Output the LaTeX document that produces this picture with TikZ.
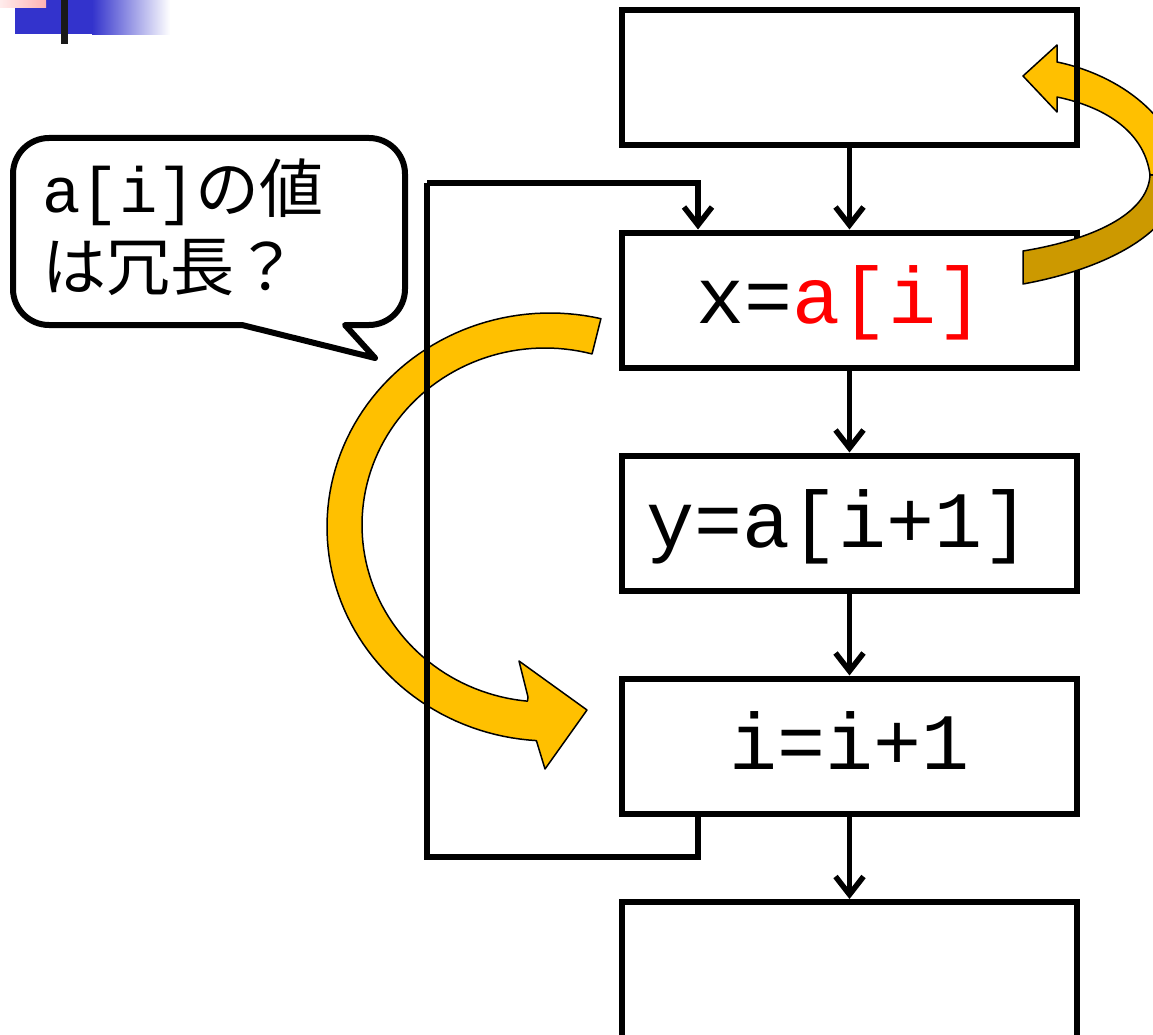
\documentclass[tikz,border=0pt]{standalone}
\usepackage{fontspec}
\setmonofont{Liberation Mono}
\newfontfamily\cjk{Noto Sans CJK JP}
\usetikzlibrary{arrows.meta}
\definecolor{gold}{HTML}{FFC000}
\definecolor{darkgold}{HTML}{CC9900}
\definecolor{slideblue}{HTML}{3333CC}
\definecolor{slidepink}{HTML}{FFB3B3}
\begin{document}
\begin{tikzpicture}[x=1pt,y=-1pt,
  flowbox/.style={draw,line width=6pt,minimum width=455pt,minimum height=135pt,inner sep=0pt},
  code/.style={font=\ttfamily\fontsize{80}{90}\selectfont,inner sep=0pt,anchor=base west},
  notetext/.style={font=\fontsize{64}{77}\selectfont,inner sep=0pt,anchor=base west},
  conn/.style={line width=5.5pt,-{Straight Barb[length=18pt,width=28pt]}},
  bigarrow/.style={fill=gold,draw=black,line width=1.5pt,line join=round},
  backarrow/.style={fill=darkgold,draw=black,line width=1.5pt,line join=round}]
\useasboundingbox (0,0) rectangle (1153,1035);
\clip (0,0) rectangle (1153,1035);
\fill[white] (0,0) rectangle (1153,1035);
% slide decoration
\fill[slideblue] (15,0) rectangle (92,34);
\shade[left color=slideblue,right color=white] (92,0) rectangle (170,35);
\shade[left color=slidepink!25,right color=slidepink] (0,0) rectangle (46,8);
\fill[black!90] (61,0) rectangle (68,44);
% left curved arrow
\draw[bigarrow] plot[domain=-76.8:-266.5,samples=90,variable=\t] ({550+223*cos(\t)},{527+214*sin(\t)})
  -- (545,769) -- (587,710) -- (519,661) -- (528,697)
  -- plot[domain=-264.5:-75.1,samples=90,variable=\t] ({545+183*cos(\t)},{525+177*sin(\t)}) -- cycle;
% boxes
\node[flowbox] (box2) at (849.5,300) {};
\node[flowbox] (box3) at (849.5,523) {};
\node[flowbox] (box4) at (849.5,746) {};
\node[flowbox,minimum height=160pt] (box5) at (849.5,982) {};
\node[code] (t2) at (696,323) {x=\textcolor{red}{a[i]}};
\node[code] (t3) at (646,547) {y=a[i+1]};
\node[code] (t4) at (729,769) {i=i+1};
% right curved arrow
\draw[backarrow] (1023,251) -- (1023,284) .. controls (1100,270) and (1178,235) .. (1182,175)
  -- (1150,175) .. controls (1148,215) and (1090,240) .. (1023,251) -- cycle;
\draw[bigarrow] (1182,175) .. controls (1177,118) and (1120,75) .. (1057,62)
  -- (1057,45) -- (1023,76) -- (1057,112) -- (1057,97)
  .. controls (1110,108) and (1145,135) .. (1150,175) -- cycle;
\node[flowbox] (box1) at (849.5,77.5) {};
% connectors
\draw[conn] (box1.south) -- (box2.north);
\draw[conn] (box2.south) -- (box3.north);
\draw[conn] (box3.south) -- (box4.north);
\draw[conn] (box4.south) -- (box5.north);
\coordinate (lx) at (698,0);
\coordinate (ll) at (427,857);
\coordinate (lt) at (427,183);
\draw[line width=5.5pt] (box4.south -| lx) |- (ll) -- (lt);
\draw[conn] (lt) -| (box2.north -| lx);
% callout
\draw[line width=6pt,line join=round,fill=white]
  (242,325) [rounded corners=36pt] -- (13,325) -- (13,138) -- (405,138) -- (405,325) [sharp corners] -- (345,325)
  -- (375,358) -- cycle;
\node[notetext] (n1) at (42,212) {\texttt{a[i]}{\cjk の値}};
\node[notetext] (n2) at (42,290) {{\cjk は冗長？}};
\end{tikzpicture}
\end{document}
